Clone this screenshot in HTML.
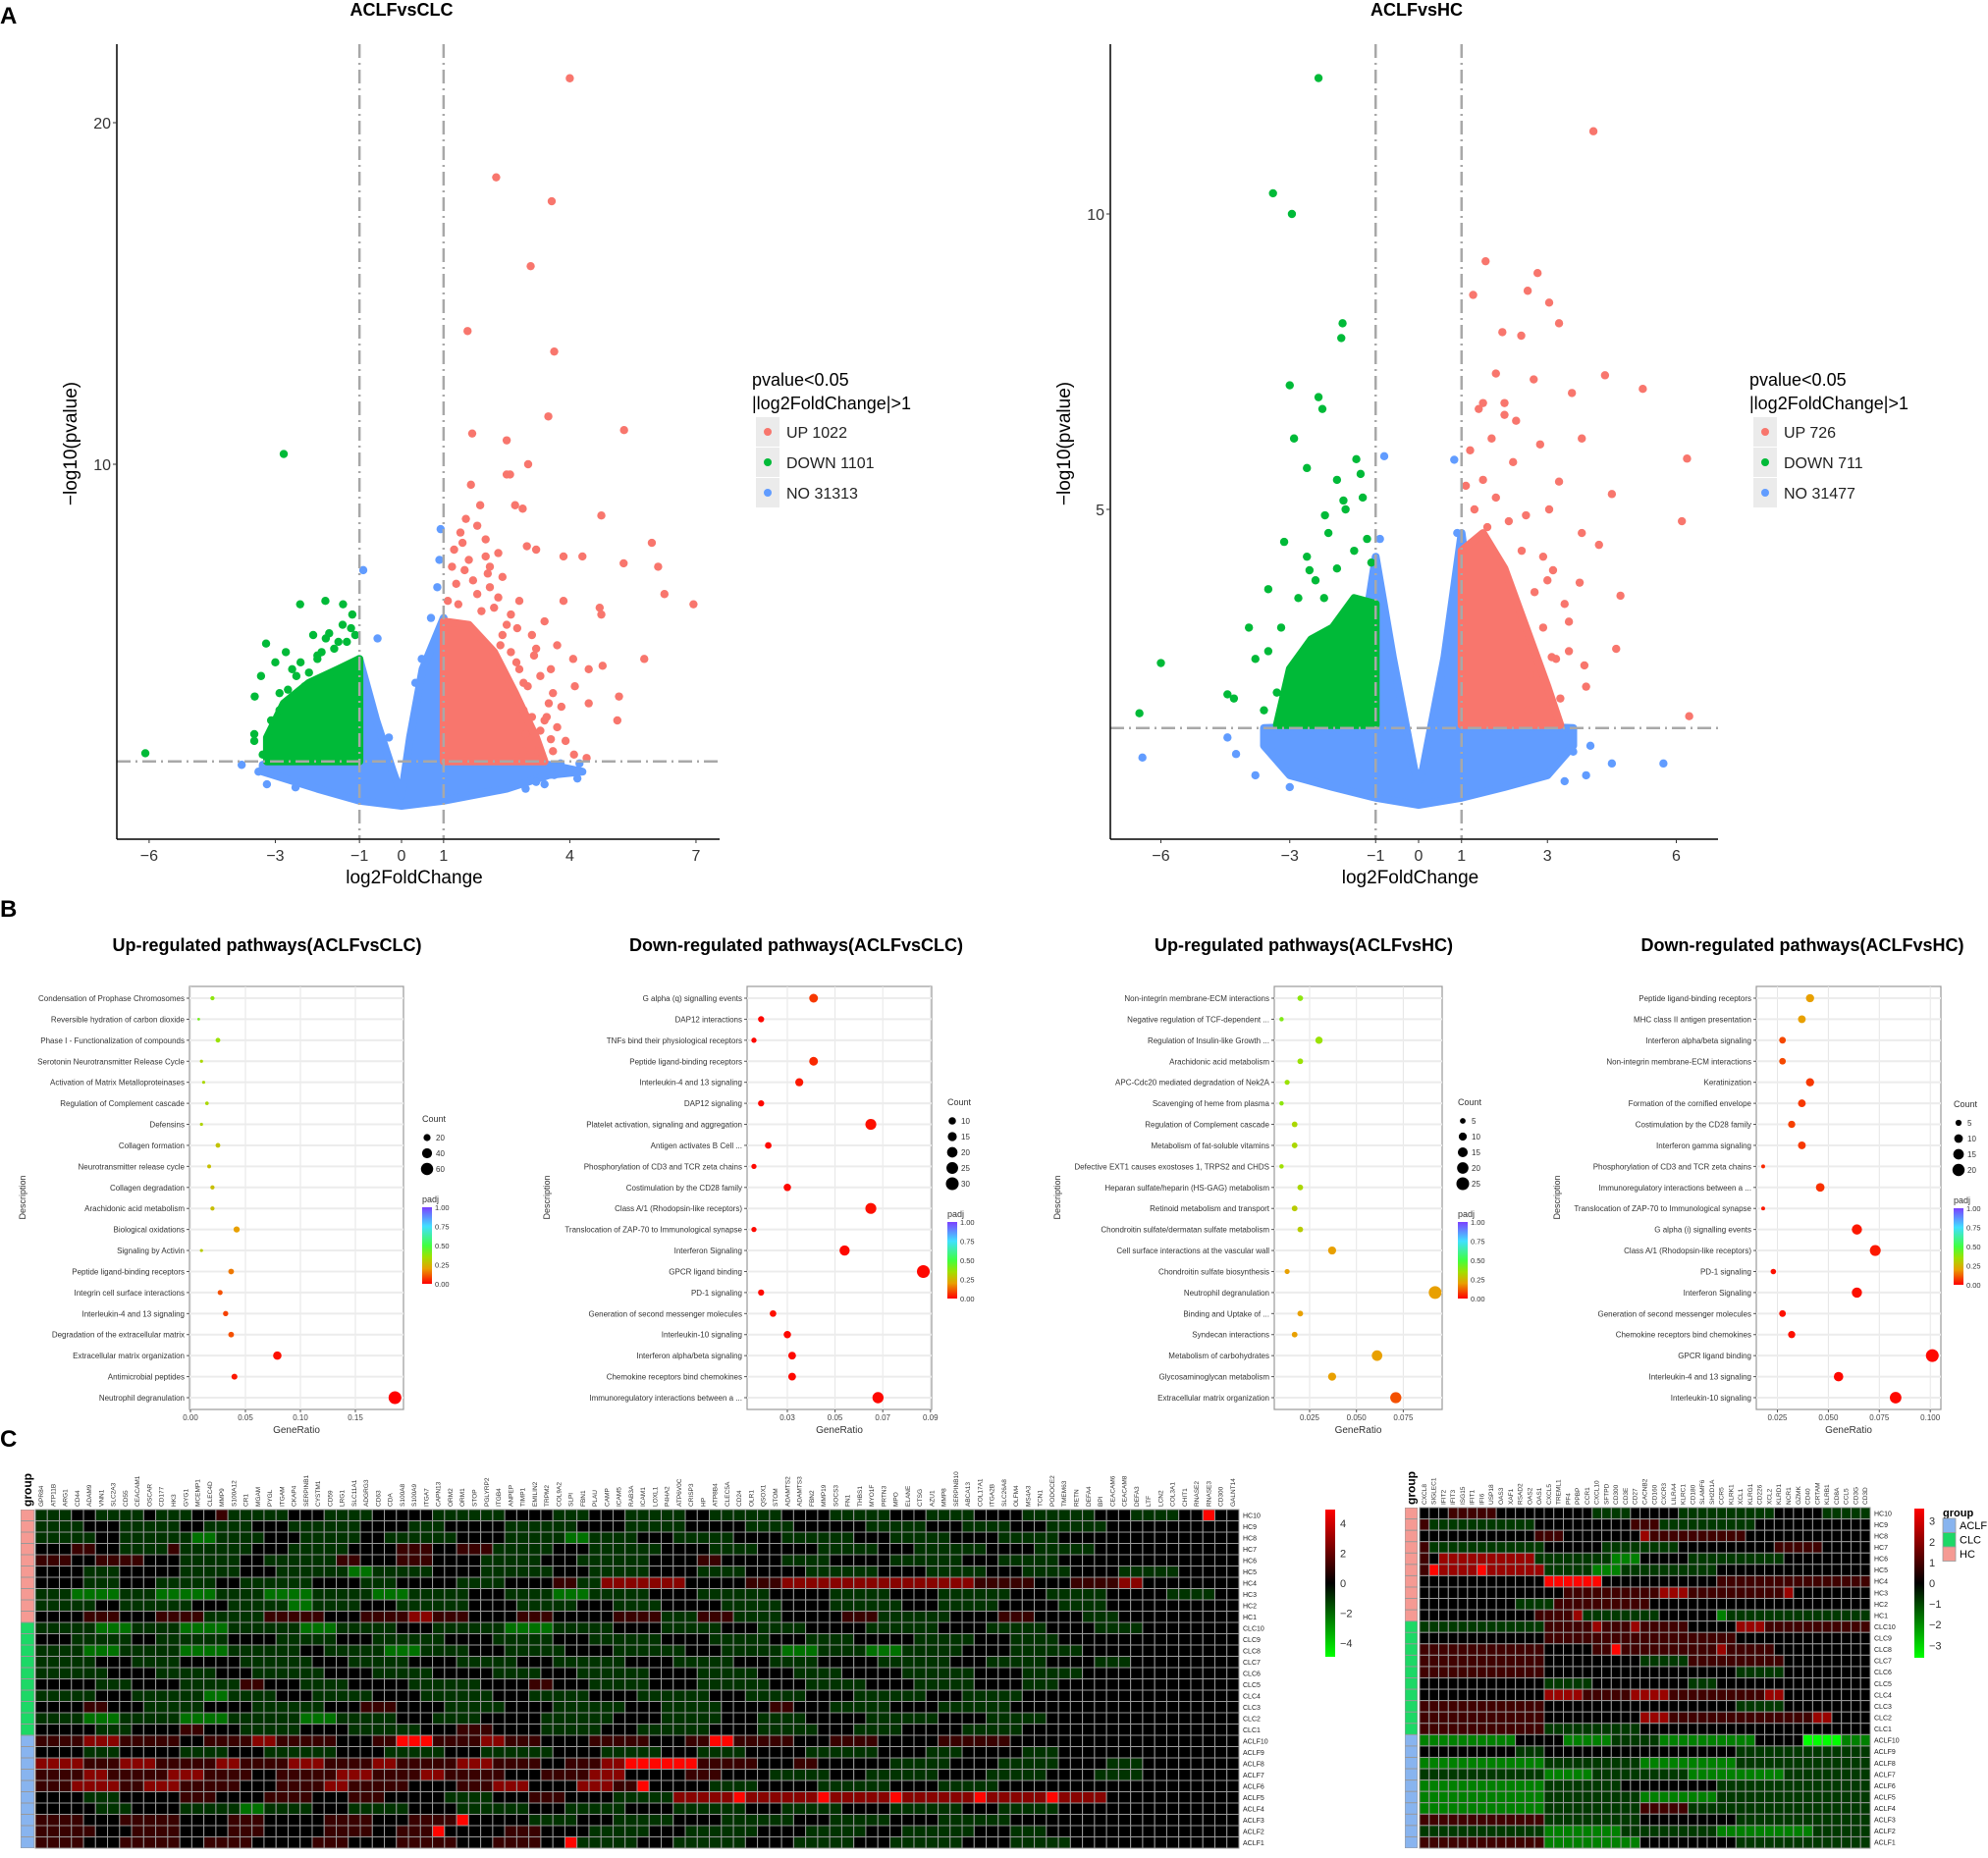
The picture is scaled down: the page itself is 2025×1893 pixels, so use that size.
<!DOCTYPE html>
<html><head><meta charset="utf-8"><title>ACLF figure</title>
<style>
html,body{margin:0;padding:0;background:#fff;}
svg{display:block;font-family:"Liberation Sans",Arial,sans-serif;}
.nar{font-family:"Liberation Sans Narrow","Liberation Sans",sans-serif;}
</style></head>
<body>
<svg id="fig" xmlns="http://www.w3.org/2000/svg" width="2025" height="1893" viewBox="0 0 2025 1893">
<defs>
<linearGradient id="padjGrad" x1="0" y1="1" x2="0" y2="0">
<stop offset="0" stop-color="#ff0000"/><stop offset="0.2" stop-color="#e8a000"/><stop offset="0.35" stop-color="#a0e000"/><stop offset="0.5" stop-color="#40ff40"/><stop offset="0.75" stop-color="#40e0ff"/><stop offset="1" stop-color="#7a40ff"/>
</linearGradient>
<linearGradient id="hmGrad1" x1="0" y1="1" x2="0" y2="0">
<stop offset="0" stop-color="#00ff00"/><stop offset="0.5" stop-color="#000000"/><stop offset="1" stop-color="#ff0000"/>
</linearGradient>
</defs>
<rect x="0" y="0" width="2025" height="1893" fill="#fff"/>
<text x="0" y="24" font-size="24" font-weight="bold">A</text>
<text x="0" y="934" font-size="24" font-weight="bold">B</text>
<text x="0" y="1474" font-size="24" font-weight="bold">C</text>
</svg>
<script>
// ---------- Volcano data (log2FC, -log10 p) ----------
const v1UpX = [4.0,2.25,3.57,3.07,1.57,3.63,3.49,5.29,1.68,2.5,3.01,2.5,2.58,1.65,4.75,1.87,2.7,2.88,5.95,6.1,5.28,4.3,3.85,6.25,6.94,4.71,4.75,3.85,3.4,5.77,5.17,5.13,4.45,4.78,4.08,4.12,4.45,3.1,3.2,3.7,3.55,3.8,3.4,3.55,4.1,4.4,3.25,2.95,3.1,2.8,3.2,2.98,2.3,2.05,1.45,1.53,2.0,2.4,2.5,2.35,2.73,2.9,
  2.6,2.8,3.0,2.9,3.3,3.5,2.2,1.8,1.3,1.2,1.6,2.1,2.6,3.3,3.6,2.4,1.9,1.1,3.7,3.9,3.6,2.9,2.1,1.4,1.8,1.25,1.5,2.3,2.75,3.15,3.45,1.7,2.0,1.35];
const v1UpY = [21.3,18.4,17.7,15.8,13.9,13.3,11.4,11.0,10.9,10.7,10.0,9.7,9.7,9.4,8.5,8.8,8.8,8.7,7.7,7.0,7.1,7.3,7.3,6.2,5.9,5.8,5.6,6.0,5.4,4.3,3.2,2.5,4.0,4.1,4.3,3.5,3.0,5.0,4.6,4.7,4.0,2.9,2.5,1.95,1.5,1.4,1.6,2.1,2.6,6.0,7.5,7.6,7.4,6.8,7.7,8.4,7.8,6.7,5.3,4.7,4.2,3.6,
  4.5,4.0,3.5,2.8,2.2,3.0,5.8,6.2,6.5,7.0,7.2,6.4,5.6,3.8,3.3,5.0,5.7,6.0,2.3,1.9,1.6,1.6,7.0,8.0,8.2,7.5,6.9,6.1,5.2,4.4,2.6,6.6,7.3,5.9];
const v1DownX = [-2.8,-6.09,-2.41,-1.81,-1.39,-1.17,-3.22,-3.34,-3.49,-3.0,-3.5,-3.5,-3.1,-2.1,-1.72,-2.9,-2.6,-1.9,-2.3,-1.2,-1.5,-2.0,
  -3.1,-2.7,-2.4,-2.0,-1.6,-1.3,-2.9,-2.2,-1.1,-3.0,-3.3,-2.5,-1.8,-1.4,-2.75];
const v1DownY = [10.3,1.54,5.9,6.0,5.9,5.6,4.75,3.8,3.2,4.2,2.1,1.9,2.5,5.0,5.05,3.3,4.0,4.5,3.5,5.2,4.8,4.4,
  2.2,3.4,4.2,4.3,4.6,4.8,2.8,3.9,5.0,1.6,1.5,3.8,4.9,5.3,4.5];
const v1NoX = [0.93,-0.91,-3.8,-3.2,4.18,3.4,2.95,4.23,3.78,3.63,-0.57,0.48,0.33,0.7,0.85,-2.52,0.9,-0.3,-3.4,4.0,3.2];
const v1NoY = [8.1,6.9,1.2,0.63,0.8,0.63,0.5,1.24,1.24,0.9,4.9,4.3,3.6,5.5,6.4,0.54,7.2,2.0,1.0,1.0,0.7];
const v1BlueTopX = [-3.3,-2.5,-1.5,-1.0,-0.6,-0.2,0,0.2,0.5,1.0,1.5,2.5,3.5,4.3];
const v1BlueTopY = [1.2,1.3,1.3,4.3,2.5,1.0,0.3,2.0,4.0,5.5,1.3,1.3,1.2,1.0];
const v1BlueBotX = [4.3,3.5,2.5,1.0,0,-1.0,-2.0,-3.3];
const v1BlueBotY = [1.0,0.9,0.5,0.15,0,0.15,0.5,1.0];
const v1DownAreaX = [-3.2,-3.2,-2.8,-2.2,-1.5,-1.0,-1.0];
const v1DownAreaY = [1.3,2.0,3.0,3.6,4.0,4.3,1.3];
const v1UpAreaX = [1.0,1.0,1.6,2.2,2.7,3.2,3.4];
const v1UpAreaY = [1.3,5.4,5.3,4.5,3.3,2.0,1.3];
const v1XTicks = [-6,-3,-1,0,1,4,7];
const v1YTicks = [10,20];
const v1Legend = ["UP 1022","DOWN 1101","NO 31313"];

const v2UpX = [4.07,1.56,2.77,5.22,4.34,6.25,6.13,6.3,3.8,4.5,4.2,4.7,3.5,4.6,3.86,2.54,3.04,2.39,3.27,1.95,1.27,2.68,3.57,3.8,3.13,3.27,2.83,3.04,2.27,3.75,3.2,2.54,1.5,2.0,
  1.3,1.5,1.8,2.1,2.4,2.7,2.9,3.1,2.2,1.7,1.2,2.6,3.3,3.5,3.9,3.4,2.0,1.4,2.9,1.8,1.1,2.5,3.0,1.6];
const v2UpY = [11.4,9.2,9.0,7.04,7.27,5.86,4.8,1.5,6.2,5.26,4.4,3.54,3.1,2.64,2.36,8.7,8.5,7.94,8.15,8.0,8.63,7.2,6.97,4.6,3.97,5.47,6.1,5.0,6.5,3.76,2.47,1.6,6.8,6.6,
  5.0,5.5,5.2,4.8,4.3,3.6,3.0,2.5,5.8,6.2,6.0,2.2,1.8,2.6,2.0,3.4,6.8,6.7,4.2,7.3,5.4,4.9,3.8,4.7];
const v2DownX = [-2.33,-3.39,-2.95,-1.77,-1.8,-3.0,-2.33,-2.24,-6.0,-6.5,-4.45,-3.95,-3.13,-2.18,-1.9,-2.6,-1.45,-1.75,-3.5,-2.54,-3.8,-4.3,-2.9,-1.3,
  -3.5,-3.2,-2.8,-2.4,-1.9,-1.5,-1.2,-2.6,-3.0,-1.7,-2.1,-3.6,-3.3,-1.35,-2.2,-1.1];
const v2DownY = [12.3,10.35,10.0,8.15,7.9,7.1,6.9,6.7,2.4,1.55,1.87,3.0,4.45,4.9,5.5,5.7,5.85,5.15,3.65,3.97,2.47,1.8,6.2,5.2,
  2.6,3.0,3.5,3.8,4.0,4.3,4.5,4.2,2.0,5.0,4.6,1.6,1.9,5.6,3.5,4.1];
const v2NoX = [-6.43,-4.25,-4.45,5.7,4.5,-0.8,0.83,-3.8,-3.0,3.4,3.9,-0.9,0.9,-3.4,3.6,4.0];
const v2NoY = [0.8,0.86,1.14,0.7,0.7,5.9,5.84,0.5,0.3,0.4,0.5,4.5,4.6,0.9,0.9,1.0];
const v2BlueTopX = [-3.6,-1.6,-1.0,-0.6,-0.1,0,0.1,0.6,1.0,1.6,3.6];
const v2BlueTopY = [1.3,1.35,4.2,2.5,0.6,0.4,0.6,2.5,4.6,1.35,1.3];
const v2BlueBotX = [3.6,3.0,2.0,1.0,0,-1.0,-2.0,-3.0,-3.6];
const v2BlueBotY = [1.0,0.5,0.3,0.12,0,0.12,0.3,0.5,1.0];
const v2DownAreaX = [-3.3,-3.0,-2.5,-2.0,-1.5,-1.0,-1.0];
const v2DownAreaY = [1.35,2.3,2.8,3.0,3.5,3.4,1.35];
const v2UpAreaX = [1.0,1.0,1.5,2.0,2.5,3.0,3.3];
const v2UpAreaY = [1.35,4.3,4.6,4.0,3.0,2.0,1.35];
const v2XTicks = [-6,-3,-1,0,1,3,6];
const v2YTicks = [5,10];
const v2Legend = ["UP 726","DOWN 711","NO 31477"];

// ---------- Dot plot data ----------
const up1Labels = ["Condensation of Prophase Chromosomes","Reversible hydration of carbon dioxide","Phase I - Functionalization of compounds","Serotonin Neurotransmitter Release Cycle","Activation of Matrix Metalloproteinases","Regulation of Complement cascade","Defensins","Collagen formation","Neurotransmitter release cycle","Collagen degradation","Arachidonic acid metabolism","Biological oxidations","Signaling by Activin","Peptide ligand-binding receptors","Integrin cell surface interactions","Interleukin-4 and 13 signaling","Degradation of the extracellular matrix","Extracellular matrix organization","Antimicrobial peptides","Neutrophil degranulation"];
const up1Ratio = [0.020,0.0075,0.025,0.010,0.012,0.015,0.010,0.025,0.017,0.020,0.020,0.042,0.010,0.037,0.027,0.032,0.037,0.079,0.040,0.186];
const up1Count = [7,3,9,4,4,5,4,9,6,7,7,15,4,13,10,11,13,28,14,65];
const up1Padj = [0.38,0.42,0.36,0.33,0.33,0.33,0.32,0.28,0.27,0.27,0.27,0.2,0.3,0.15,0.1,0.08,0.1,0.02,0.03,0.0];
const up1Ticks = [0,0.05,0.10,0.15];
const up1TickLabels = ["0.00","0.05","0.10","0.15"];
const up1LegendCounts = [20,40,60];

const down1Labels = ["G alpha (q) signalling events","DAP12 interactions","TNFs bind their physiological receptors","Peptide ligand-binding receptors","Interleukin-4 and 13 signaling","DAP12 signaling","Platelet activation, signaling and aggregation","Antigen activates B Cell ...","Phosphorylation of CD3 and TCR zeta chains","Costimulation by the CD28 family","Class A/1 (Rhodopsin-like receptors)","Translocation of ZAP-70 to Immunological synapse","Interferon Signaling","GPCR ligand binding","PD-1 signaling","Generation of second messenger molecules","Interleukin-10 signaling","Interferon alpha/beta signaling","Chemokine receptors bind chemokines","Immunoregulatory interactions between a ..."];
const down1Ratio = [0.041,0.019,0.016,0.041,0.035,0.019,0.065,0.022,0.016,0.030,0.065,0.016,0.054,0.087,0.019,0.024,0.030,0.032,0.032,0.068];
const down1Count = [14,7,5,14,12,7,22,8,5,10,22,5,19,30,7,8,10,11,11,23];
const down1Padj = [0.07,0.01,0.01,0.05,0.03,0.01,0.02,0.01,0.01,0.01,0.02,0.01,0.01,0.01,0.01,0.02,0.01,0.01,0.01,0.01];
const down1Ticks = [0.03,0.05,0.07,0.09];
const down1TickLabels = ["0.03","0.05","0.07","0.09"];
const down1LegendCounts = [10,15,20,25,30];

const up2Labels = ["Non-integrin membrane-ECM interactions","Negative regulation of TCF-dependent ...","Regulation of Insulin-like Growth ...","Arachidonic acid metabolism","APC-Cdc20 mediated degradation of Nek2A","Scavenging of heme from plasma","Regulation of Complement cascade","Metabolism of fat-soluble vitamins","Defective EXT1 causes exostoses 1, TRPS2 and CHDS","Heparan sulfate/heparin (HS-GAG) metabolism","Retinoid metabolism and transport","Chondroitin sulfate/dermatan sulfate metabolism","Cell surface interactions at the vascular wall","Chondroitin sulfate biosynthesis","Neutrophil degranulation","Binding and Uptake of ...","Syndecan interactions","Metabolism of carbohydrates","Glycosaminoglycan metabolism","Extracellular matrix organization"];
const up2Ratio = [0.020,0.010,0.030,0.020,0.013,0.010,0.017,0.017,0.010,0.020,0.017,0.020,0.037,0.013,0.092,0.020,0.017,0.061,0.037,0.071];
const up2Count = [5,3,8,5,4,3,5,5,3,5,5,5,10,4,25,5,5,17,10,19];
const up2Padj = [0.38,0.4,0.36,0.36,0.36,0.38,0.33,0.33,0.35,0.33,0.3,0.3,0.2,0.2,0.2,0.2,0.2,0.2,0.2,0.1];
const up2Ticks = [0.025,0.050,0.075];
const up2TickLabels = ["0.025","0.050","0.075"];
const up2LegendCounts = [5,10,15,20,25];

const down2Labels = ["Peptide ligand-binding receptors","MHC class II antigen presentation","Interferon alpha/beta signaling","Non-integrin membrane-ECM interactions","Keratinization","Formation of the cornified envelope","Costimulation by the CD28 family","Interferon gamma signaling","Phosphorylation of CD3 and TCR zeta chains","Immunoregulatory interactions between a ...","Translocation of ZAP-70 to Immunological synapse","G alpha (i) signalling events","Class A/1 (Rhodopsin-like receptors)","PD-1 signaling","Interferon Signaling","Generation of second messenger molecules","Chemokine receptors bind chemokines","GPCR ligand binding","Interleukin-4 and 13 signaling","Interleukin-10 signaling"];
const down2Ratio = [0.041,0.037,0.0275,0.0275,0.041,0.037,0.032,0.037,0.018,0.046,0.018,0.064,0.073,0.023,0.064,0.0275,0.032,0.101,0.055,0.083];
const down2Count = [9,8,6,6,9,8,7,8,2,10,2,14,16,4,14,6,7,22,12,18];
const down2Padj = [0.2,0.2,0.09,0.09,0.07,0.07,0.08,0.07,0.05,0.06,0.03,0.03,0.03,0.02,0.02,0.02,0.02,0.01,0.01,0.01];
const down2Ticks = [0.025,0.050,0.075,0.100];
const down2TickLabels = ["0.025","0.050","0.075","0.100"];
const down2LegendCounts = [5,10,15,20];

// ---------- Heatmap data (run-length codes: G/g/d green, k black, m/r/R red) ----------
const hmRows = ["HC10","HC9","HC8","HC7","HC6","HC5","HC4","HC3","HC2","HC1","CLC10","CLC9","CLC8","CLC7","CLC6","CLC5","CLC4","CLC3","CLC2","CLC1","ACLF10","ACLF9","ACLF8","ACLF7","ACLF6","ACLF5","ACLF4","ACLF3","ACLF2","ACLF1"];
const hmGroups = ["HC","HC","HC","HC","HC","HC","HC","HC","HC","HC","CLC","CLC","CLC","CLC","CLC","CLC","CLC","CLC","CLC","CLC","ACLF","ACLF","ACLF","ACLF","ACLF","ACLF","ACLF","ACLF","ACLF","ACLF"];
const genes1 = ["GPR84","ATP11B","ARG1","CD44","ADAM9","VNN1","SLC2A3","CD55","CEACAM1","OSCAR","CD177","HK3","GYG1","MCEMP1","CLEC4D","MMP9","S100A12","CR1","MGAM","PYGL","ITGAM","CKAP4","SERPINB1","CYSTM1","CD59","LRG1","SLC11A1","ADGRG3","CD63","CDA","S100A8","S100A9","ITGA7","CAPN13","ORM2","ORM1","STOP","PGLYRP2","ITGB4","ANPEP","TIMP1","EMILIN2","TRPM2","COL9A2","SLPI","FBN1","PLAU","CAMP","ICAM5","RAB3A","ICAM1","LOXL1","P4HA2","ATP6V0C","CRISP3","HP","ATP8B4","CLEC5A","CD24","OLR1","QSOX1","STOM","ADAMTS2","ADAMTS3","FBN2","MMP19","SOCS3","FN1","THBS1","MYO1F","PRTN3","MPO","ELANE","CTSG","AZU1","MMP8","SERPINB10","ABCA13","COL17A1","ITGA2B","SLC26A8","OLFM4","MS4A3","TCN1","PODOCE2","TMEM63","RETN","DEFA4","BPI","CEACAM6","CEACAM8","DEFA3","LTF","LCN2","COL3A1","CHIT1","RNASE2","RNASE3","CD300","GALNT14"];
const hm1Codes = ["d3k2d4k1d3k2m1d5k3d4k5d6k4d3k3d5k2d6k4d5k3d4k4d6k3d4k2R1","d4k3d5k2d4k3d6k4d3k5d6k4d5k5d4k6d5k3d4k3d5k3","d5k2d6g2d4k3d5k2d6k4d5g2d4k3d5k4d6k3d5k4d5k5","k3m2k2d4m1d6k3d5k4m3k2m3d5k3d6k4d4k5d5k3d6k4d5","m3k2m4k3d5k2d6m2k3m3k4d5k3d6k4m2k5d4k5d6k3d5k5","k4d3k5d5k3d6g2d5k4d6k3d5k4d4k5d6k4d5k3d4k4d5","k4d3k3d5k2d6k4d3k5d4k4m2d2r7k5m3r16m5k3m4r2","d3g4d3g5d4g4d5g3d5k3d4g3d5k4d6k5d5k4d6k3d5k5d4","d5k2d6k3d5g2d4k3d6k4d5k3d4k5d5k4d6k3d5k5d4k6","k4m3k3m4d5m5k3m4r2m3k4m3k5m4d3m3d4k5m3d6k4m3k4d3","d5g3d4g4d6g3d5k3d6g4d5k4d5k3d4k5d6k4d5k4d4k3","k3d5k2d6k4d5k3d6k4d5k3d6k4d5k3d4k5d5k3d4k3","d4g3d5g4d6k2d5g3d4k3d5k4d6k3d5g3d4g3d5k4d6k2","d5k3d4k5d6k3d5k4d5k3d6k4d5k3d4k5d6k3d5k4d3","d6k4d5k3d6k4d5k5d4k3d6k4d5k3d4k5d6k4d5k3","k5d3k4d5m2k3d4k5d6k4m2k3d5k4d6k3d5k4d5k4d3k3","d5k3d6g2d4k3d5k4d6k3d5k4d6k3d5k4d6k3d5k3","k4m2k3d5k4d6k3m3k4d5k4d6k3d5k4m2k3d5k4d6k2","d4g3d5g4d6g3d5k3d4k5d6k4d5k3d4k5d6k4d5k4","k5d3k4m2k3d5k4d6k3m3k4d5k3d6k4d5k3d4k5d5k3","m4r3m5k2m4r2m5k3m2R3m4r2m3k4m5k3m2R2m5k3m4k5m6k4","k4d3k5d4k3d6k4d5k3d6k4d5k3d4k5d6k4d3k5d3","r4m3r3m5r2m4r3m4r2m5r3m4k2m3r2R6m5k3m2k6d5k4d5k4d3","m4r2m5r3m4k2m5r3m4r2m5k3m4r3k5m3k4d5k3d6k4d5k4d4","m3r4m2r3m5k3m4r2m5k4m3r3k4r3m2R1k5d4k5d6k4d5k4","k4d3k5m3k4m4k3m3k5d4k3m3k4d5r5R1r6R1r5R1r6R1r5R1r4k3","k5d3k4d5g2d4k3d5k4d6k3d5k4d6k3d5k4d6k3d5k3","m4k3m5k4m3k5m4k3m4R1k5d4k3d5k4d6k3d5k4d6k3","m5k3m4k4m3k5m4k2m3R1k5m3k4d5k3d6k4d5k3d6k3d3","m4k3m5k2m4k5m3k4m5k3m4k2R1d5k3d6k4d5k3d6k4d5k3"];
const genes2 = ["CXCL8","SIGLEC1","IFIT2","IFIT3","ISG15","IFIT1","IFI6","USP18","OAS3","XAF1","RSAD2","OAS2","OAS1","CXCL5","TREML1","PF4","PPBP","CCR1","CXCL10","SFTPD","CD300","CD3E","CD27","CACNB2","CD160","CXCR3","LILRA4","KLRC1","CD180","SLAMF6","SH2D1A","CCR5","KLRK1","XCL1","KLRG1","CD226","XCL2","KLRD1","NCR1","GZMK","CD40","CRTAM","KLRB1","CD8A","CCL5","CD3G","CD3D"];
const hm2Codes = ["k3m5k10d4k5d10k5d5","m1d11k10m3d10k12","k12m3k8r1m10k13","m1d12k6d8k10m5k5","m1k1r10d8g3k5d10k9","m1R1r4R1r6d5g3d10k16","k13R6k12m16","k15m10r3m10r1k8","k10d4m10k23","k12m4r1d8k6g1d15","d13m5r1m3r1m5k5r3m11","k13m20k14","m13k5m2R1m10r1m5k10","m13k10d5m10k9","m13k20d5k9","k13d5k10d3k16","k13r4m5r4m10r2k9","m13k20d5k9","m13k10r3m15r2k4","m13d10k24","g10k5g5d5g10k5G4g3","k10d3k20d14","g13d10g10d14","d13g5d10g10d9","g13d8k10d16","g13d10g8d16","g13d10m5d19","m13d10k10d14","d13g8d10g10d6","m13g10k10d14"];
const hm1Ticks = [4,2,0,-2,-4];
const hm2Ticks = [3,2,1,0,-1,-2,-3];
const groupNames = ["ACLF","CLC","HC"];

// ---------- helpers ----------
const NS = "http://www.w3.org/2000/svg";
const svg = document.getElementById('fig');
function mk(tag, attrs, name, parent) {
  const el = document.createElementNS(NS, tag);
  for (const k in attrs) el.setAttribute(k, attrs[k]);
  
  
  (parent || svg).appendChild(el);
  return el;
}
function txt(x, y, s, attrs, name, parent) {
  const a = Object.assign({x: x, y: y}, attrs || {});
  const el = mk('text', a, name, parent);
  el.textContent = s;
  return el;
}
const BLUE = '#619CFF', RED = '#F8766D', GREEN = '#00BA38';

// ---------- Volcano ----------
function volcano(o) {
  const g = mk('g', {}, o.name);
  const xs = v => o.x0 + v * o.xu;
  const ys = v => o.y0 - v * o.yu;
  txt(o.titleX, 16, o.title, {'font-size': 18, 'font-weight': 'bold', 'text-anchor': 'middle'}, 'chart-title', g);
  function area(X, Y, X2, Y2, col, name) {
    let pts = X.map((v, i) => xs(v).toFixed(1) + ',' + ys(Y[i]).toFixed(1));
    if (X2) pts = pts.concat(X2.map((v, i) => xs(v).toFixed(1) + ',' + ys(Y2[i]).toFixed(1)));
    mk('polygon', {points: pts.join(' '), fill: col, stroke: col, 'stroke-width': 8, 'stroke-linejoin': 'round'}, name, g);
  }
  function pts(X, Y, col, name) {
    X.forEach((v, i) => {
      mk('circle', {cx: xs(v), cy: ys(Y[i]), r: 4.2, fill: col}, name, g);
    });
  }
  area(o.blueTopX, o.blueTopY, o.blueBotX, o.blueBotY, BLUE, 'ns-gene-cloud');
  pts(o.noX, o.noY, BLUE, 'ns-gene-point');
  area(o.downAreaX, o.downAreaY, null, null, GREEN, 'down-gene-cloud');
  pts(o.downX, o.downY, GREEN, 'down-gene-point');
  area(o.upAreaX, o.upAreaY, null, null, RED, 'up-gene-cloud');
  pts(o.upX, o.upY, RED, 'up-gene-point');
  [-1, 1].forEach(v => {
    mk('line', {x1: xs(v), x2: xs(v), y1: o.top, y2: o.bottom, stroke: '#a8a8a8', 'stroke-width': 2.5, 'stroke-dasharray': '14,5,2,5'}, 'fold-threshold-line', g);
  });
  mk('line', {x1: o.left, x2: o.right, y1: ys(1.3), y2: ys(1.3), stroke: '#a8a8a8', 'stroke-width': 2.5, 'stroke-dasharray': '14,5,2,5'}, 'pvalue-threshold-line', g);
  mk('line', {x1: o.left, x2: o.left, y1: o.top, y2: o.bottom, stroke: '#000', 'stroke-width': 1.5}, 'y-axis-line', g);
  mk('line', {x1: o.left, x2: o.right, y1: o.bottom, y2: o.bottom, stroke: '#000', 'stroke-width': 1.5}, 'x-axis-line', g);
  o.xTicks.forEach(v => {
    mk('line', {x1: xs(v), x2: xs(v), y1: o.bottom, y2: o.bottom + 4, stroke: '#333'}, 'x-tick', g);
    txt(xs(v), o.bottom + 22, v < 0 ? '\u2212' + Math.abs(v) : String(v), {'font-size': 16, 'text-anchor': 'middle', fill: '#333'}, 'x-tick-label', g);
  });
  o.yTicks.forEach(v => {
    mk('line', {x1: o.left - 4, x2: o.left, y1: ys(v), y2: ys(v), stroke: '#333'}, 'y-tick', g);
    txt(o.left - 6, ys(v) + 6, String(v), {'font-size': 16, 'text-anchor': 'end', fill: '#333'}, 'y-tick-label', g);
  });
  txt((o.left + o.right) / 2 - 4, 900, 'log2FoldChange', {'font-size': 19, 'text-anchor': 'middle'}, 'x-axis-title', g);
  txt(0, 0, '\u2212log10(pvalue)', {'font-size': 19, 'text-anchor': 'middle', transform: 'translate(' + o.yLabX + ',452) rotate(-90)'}, 'y-axis-title', g);
  txt(o.legX, 393, 'pvalue<0.05', {'font-size': 18}, 'legend-title', g);
  txt(o.legX, 417, '|log2FoldChange|>1', {'font-size': 18}, 'legend-title', g);
  const cols = [RED, GREEN, BLUE];
  o.legend.forEach((s, i) => {
    const cy = 440 + i * 31;
    mk('rect', {x: o.legX + 4, y: cy - 15, width: 24, height: 30, fill: '#ebebeb'}, 'legend-key', g);
    mk('circle', {cx: o.legX + 16, cy: cy, r: 4, fill: cols[i]}, 'legend-symbol', g);
    txt(o.legX + 35, cy + 6, s, {'font-size': 16, fill: '#222'}, 'legend-entry', g);
  });
}
volcano({name: 'volcano-aclf-vs-clc', title: 'ACLFvsCLC', titleX: 409, x0: 409, xu: 42.85, y0: 821, yu: 34.8, left: 119, right: 733, top: 45, bottom: 855, yLabX: 78, legX: 766,
  upX: v1UpX, upY: v1UpY, downX: v1DownX, downY: v1DownY, noX: v1NoX, noY: v1NoY,
  blueTopX: v1BlueTopX, blueTopY: v1BlueTopY, blueBotX: v1BlueBotX, blueBotY: v1BlueBotY,
  downAreaX: v1DownAreaX, downAreaY: v1DownAreaY, upAreaX: v1UpAreaX, upAreaY: v1UpAreaY,
  xTicks: v1XTicks, yTicks: v1YTicks, legend: v1Legend});
volcano({name: 'volcano-aclf-vs-hc', title: 'ACLFvsHC', titleX: 1443, x0: 1445, xu: 43.75, y0: 820, yu: 60.2, left: 1131, right: 1750, top: 45, bottom: 855, yLabX: 1090, legX: 1782,
  upX: v2UpX, upY: v2UpY, downX: v2DownX, downY: v2DownY, noX: v2NoX, noY: v2NoY,
  blueTopX: v2BlueTopX, blueTopY: v2BlueTopY, blueBotX: v2BlueBotX, blueBotY: v2BlueBotY,
  downAreaX: v2DownAreaX, downAreaY: v2DownAreaY, upAreaX: v2UpAreaX, upAreaY: v2UpAreaY,
  xTicks: v2XTicks, yTicks: v2YTicks, legend: v2Legend});

// ---------- Dot plots ----------
const padjStops = [[0,[255,0,0]],[0.2,[232,160,0]],[0.35,[160,224,0]],[0.5,[64,255,64]],[0.75,[64,224,255]],[1,[122,64,255]]];
function padjColor(p) {
  for (let i = 1; i < padjStops.length; i++) {
    if (p <= padjStops[i][0]) {
      const a = padjStops[i - 1], b = padjStops[i];
      const t = (p - a[0]) / (b[0] - a[0]);
      const c = a[1].map((v, j) => Math.round(v + (b[1][j] - v) * t));
      return 'rgb(' + c.join(',') + ')';
    }
  }
  return 'rgb(122,64,255)';
}
function dotplot(o) {
  const g = mk('g', {}, o.name);
  const top = 1005, bottom = 1436;
  const xs = v => o.tx0 + (v - o.tv0) / o.dv * o.px;
  const rowY = i => 1017 + i * (1424 - 1017) / 19;
  txt(o.titleX, 969, o.title, {'font-size': 18, 'font-weight': 'bold', 'text-anchor': 'middle'}, 'chart-title', g);
  mk('rect', {x: o.bx0, y: top, width: o.bx1 - o.bx0, height: bottom - top, fill: '#fff', stroke: '#999', 'stroke-width': 1.2}, 'plot-panel', g);
  o.ticks.forEach((v, i) => {
    mk('line', {x1: xs(v), x2: xs(v), y1: top, y2: bottom, stroke: '#e6e6e6', 'stroke-width': 1}, 'grid-line', g);
    mk('line', {x1: xs(v), x2: xs(v), y1: bottom, y2: bottom + 3, stroke: '#555'}, 'x-tick', g);
    txt(xs(v), bottom + 11, o.tickLabels[i], {'font-size': 8, 'text-anchor': 'middle', fill: '#444', class: 'nar'}, 'x-tick-label', g);
  });
  o.labels.forEach((s, i) => {
    const y = rowY(i);
    mk('line', {x1: o.bx0, x2: o.bx1, y1: y, y2: y, stroke: '#ececec', 'stroke-width': 2}, 'grid-line', g);
    mk('line', {x1: o.bx0 - 3, x2: o.bx0, y1: y, y2: y, stroke: '#555'}, 'y-tick', g);
    txt(o.bx0 - 5, y + 3, s, {'font-size': 8, 'text-anchor': 'end', fill: '#333', class: 'nar'}, 'pathway-label', g);
  });
  o.labels.forEach((s, i) => {
    mk('circle', {cx: xs(o.ratio[i]), cy: rowY(i), r: o.k * Math.sqrt(o.count[i]), fill: padjColor(o.padj[i])}, 'pathway-dot', g);
  });
  txt((o.bx0 + o.bx1) / 2, bottom + 24, 'GeneRatio', {'font-size': 10, 'text-anchor': 'middle', fill: '#333', class: 'nar'}, 'x-axis-title', g);
  txt(0, 0, 'Description', {'font-size': 9, 'text-anchor': 'middle', fill: '#333', transform: 'translate(' + o.descX + ',1220) rotate(-90)'}, 'y-axis-title', g);
  txt(o.legX, o.cntY, 'Count', {'font-size': 9, fill: '#333', class: 'nar'}, 'size-legend-title', g);
  o.legCounts.forEach((c, i) => {
    const cy = o.cntY + 16 + i * 16;
    mk('circle', {cx: o.legX + 5, cy: cy, r: o.k * Math.sqrt(c), fill: '#000'}, 'size-legend-symbol', g);
    txt(o.legX + 14, cy + 3, String(c), {'font-size': 8, fill: '#333', class: 'nar'}, 'size-legend-label', g);
  });
  const py = o.cntY + 16 + o.legCounts.length * 16 + 18;
  txt(o.legX, py, 'padj', {'font-size': 9, fill: '#333', class: 'nar'}, 'color-legend-title', g);
  mk('rect', {x: o.legX, y: py + 5, width: 10, height: 78, fill: 'url(#padjGrad)'}, 'color-legend-bar', g);
  ['1.00', '0.75', '0.50', '0.25', '0.00'].forEach((s, i) => {
    txt(o.legX + 13, py + 8 + i * 19.5, s, {'font-size': 7.5, fill: '#333', class: 'nar'}, 'color-legend-label', g);
  });
}
dotplot({name: 'dotplot-up-aclf-vs-clc', title: 'Up-regulated pathways(ACLFvsCLC)', titleX: 272, bx0: 193, bx1: 411, tx0: 194, tv0: 0, dv: 0.05, px: 56, ticks: up1Ticks, tickLabels: up1TickLabels,
  labels: up1Labels, ratio: up1Ratio, count: up1Count, padj: up1Padj, k: 0.806, legX: 430, cntY: 1143, legCounts: up1LegendCounts, descX: 26});
dotplot({name: 'dotplot-down-aclf-vs-clc', title: 'Down-regulated pathways(ACLFvsCLC)', titleX: 811, bx0: 761, bx1: 949, tx0: 802, tv0: 0.03, dv: 0.02, px: 48.6, ticks: down1Ticks, tickLabels: down1TickLabels,
  labels: down1Labels, ratio: down1Ratio, count: down1Count, padj: down1Padj, k: 1.19, legX: 965, cntY: 1126, legCounts: down1LegendCounts, descX: 560});
dotplot({name: 'dotplot-up-aclf-vs-hc', title: 'Up-regulated pathways(ACLFvsHC)', titleX: 1328, bx0: 1298, bx1: 1469, tx0: 1334, tv0: 0.025, dv: 0.025, px: 47.7, ticks: up2Ticks, tickLabels: up2TickLabels,
  labels: up2Labels, ratio: up2Ratio, count: up2Count, padj: up2Padj, k: 1.3, legX: 1485, cntY: 1126, legCounts: up2LegendCounts, descX: 1080});
dotplot({name: 'dotplot-down-aclf-vs-hc', title: 'Down-regulated pathways(ACLFvsHC)', titleX: 1836, bx0: 1789, bx1: 1977, tx0: 1810.5, tv0: 0.025, dv: 0.025, px: 51.9, ticks: down2Ticks, tickLabels: down2TickLabels,
  labels: down2Labels, ratio: down2Ratio, count: down2Count, padj: down2Padj, k: 1.39, legX: 1990, cntY: 1128, legCounts: down2LegendCounts, descX: 1589});

// ---------- Heatmaps ----------
const codeVal = {G: -4.5, g: -2.0, d: -0.9, k: 0, m: 1.0, r: 2.4, R: 4.5};
function decode(s, n) {
  const out = [];
  s.replace(/([A-Za-z])(\d+)/g, (m, c, k) => { for (let i = 0; i < +k; i++) out.push(codeVal[c]); return m; });
  while (out.length < n) out.push(0);
  return out.slice(0, n);
}
function cellColor(v, max) {
  const t = Math.min(1, Math.abs(v) / max);
  const c = Math.round(t * 255);
  return v >= 0 ? 'rgb(' + c + ',' + Math.round(c * 0.02) + ',0)' : 'rgb(0,' + c + ',0)';
}
const groupColor = {HC: '#f59a93', CLC: '#1dd866', ACLF: '#88b4ef'};
function heatmap(o) {
  const g = mk('g', {}, o.name);
  const n = o.genes.length;
  const cw = (o.x1 - o.x0) / n, ch = (o.y1 - o.y0) / hmRows.length;
  mk('rect', {x: o.gx0, y: o.y0, width: o.gx1 - o.gx0, height: o.y1 - o.y0, fill: '#999'}, 'group-annotation-bar', g);
  hmRows.forEach((r, i) => {
    mk('rect', {x: o.gx0 + 0.5, y: o.y0 + i * ch + 0.5, width: o.gx1 - o.gx0 - 1, height: ch - 1, fill: groupColor[hmGroups[i]]}, 'group-annotation-cell', g);
    const vals = decode(o.codes[i], n);
    vals.forEach((v, j) => {
      mk('rect', {x: o.x0 + j * cw, y: o.y0 + i * ch, width: cw, height: ch, fill: cellColor(v, o.max), stroke: '#9a9a9a', 'stroke-width': 1}, 'heatmap-cell', g);
    });
    txt(o.x1 + 4, o.y0 + i * ch + ch / 2 + 2.5, r, {'font-size': 7, fill: '#222'}, 'row-label', g);
  });
  o.genes.forEach((s, j) => {
    txt(0, 0, s, {'font-size': 6.5, fill: '#333', 'text-anchor': 'start', transform: 'translate(' + (o.x0 + j * cw + cw / 2 + 2) + ',' + (o.y0 - 3) + ') rotate(-90)'}, 'column-label', g);
  });
  txt(0, 0, 'group', {'font-size': 12, 'font-weight': 'bold', transform: 'translate(' + ((o.gx0 + o.gx1) / 2 + 4) + ',' + (o.y0 - 3) + ') rotate(-90)'}, 'group-label', g);
  mk('rect', {x: o.cbx, y: o.cby0, width: 10, height: o.cby1 - o.cby0, fill: 'url(#hmGrad1)'}, 'color-scale-bar', g);
  o.ticks.forEach(v => {
    const y = o.cby0 + (o.cbMax - v) / (2 * o.cbMax) * (o.cby1 - o.cby0);
    txt(o.cbx + 15, y + 4, v < 0 ? '\u2212' + Math.abs(v) : String(v), {'font-size': 11, fill: '#333'}, 'color-scale-label', g);
  });
}
heatmap({name: 'heatmap-left', genes: genes1, codes: hm1Codes, x0: 36, x1: 1262, y0: 1538, y1: 1883, gx0: 21, gx1: 35, max: 4.5,
  cbx: 1350, cby0: 1538, cby1: 1688, cbMax: 4.9, ticks: hm1Ticks});
heatmap({name: 'heatmap-right', genes: genes2, codes: hm2Codes, x0: 1446, x1: 1905, y0: 1536, y1: 1883, gx0: 1431, gx1: 1444, max: 4.0,
  cbx: 1950, cby0: 1537, cby1: 1689, cbMax: 3.6, ticks: hm2Ticks});
txt(1979, 1545, 'group', {'font-size': 11, 'font-weight': 'bold'}, 'group-legend-title', null);
const glCols = ['#88b4ef', '#1dd866', '#f59a93'];
groupNames.forEach((s, i) => {
  mk('rect', {x: 1979, y: 1547 + i * 14.5, width: 13, height: 14.5, fill: glCols[i], stroke: '#999', 'stroke-width': 0.8}, 'group-legend-key', null);
  txt(1996, 1558 + i * 14.5, s, {'font-size': 11}, 'group-legend-entry', null);
});
</script>
</body></html>
